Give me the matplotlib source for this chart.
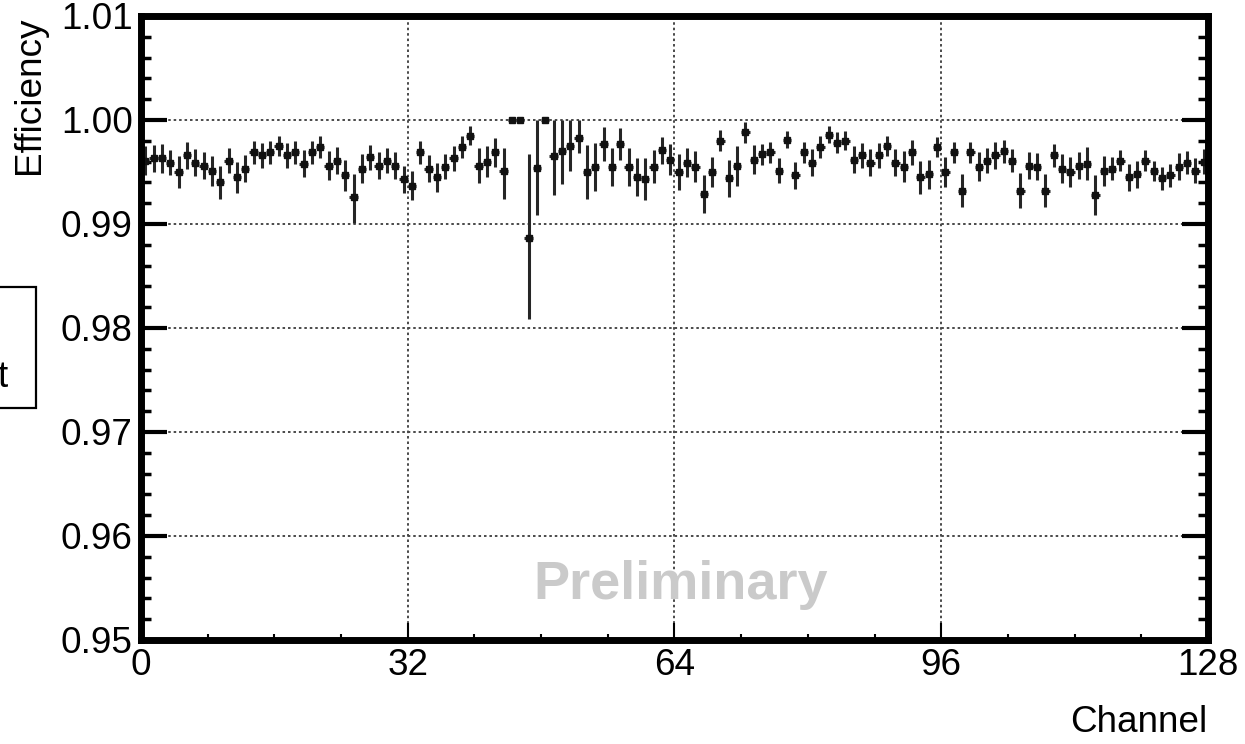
import numpy as np
import matplotlib
matplotlib.use("Agg")
import matplotlib.pyplot as plt
from matplotlib.patches import Rectangle
from matplotlib.ticker import MultipleLocator, FormatStrFormatter

plt.rcParams['font.family'] = ['Liberation Sans', 'DejaVu Sans']

# Per-channel efficiency (channels 0..127)
efficiency = [
    0.9961, 0.9963, 0.9963, 0.9959, 0.9950, 0.9966, 0.9959, 0.9956, 0.9951, 0.9940,
    0.9961, 0.9945, 0.9953, 0.9969, 0.9966, 0.9969, 0.9975, 0.9966, 0.9969, 0.9958,
    0.9969, 0.9974, 0.9956, 0.9961, 0.9947, 0.9926,
    0.9953, 0.9964, 0.9956, 0.9961, 0.9956, 0.9943, 0.9937, 0.9969, 0.9953, 0.9945,
    0.9955, 0.9963, 0.9974, 0.9985, 0.9956, 0.9960, 0.9969, 0.9951,
    1.0000, 1.0000, 0.9887, 0.9954, 1.0000, 0.9965, 0.9970, 0.9975, 0.9983, 0.9950,
    0.9955, 0.9977, 0.9955, 0.9977, 0.9955, 0.9945, 0.9943, 0.9955, 0.9971, 0.9962,
    0.9950, 0.9959, 0.9955, 0.9929, 0.9950, 0.9980, 0.9944, 0.9956, 0.9988, 0.9962,
    0.9967, 0.9969, 0.9951, 0.9981,
    0.9947, 0.9969, 0.9959, 0.9974, 0.9986, 0.9978, 0.9980, 0.9962, 0.9966, 0.9959,
    0.9966, 0.9975, 0.9959, 0.9955, 0.9969, 0.9945, 0.9948, 0.9974, 0.9950, 0.9969,
    0.9932, 0.9969, 0.9955, 0.9961, 0.9966,
    0.9970, 0.9961, 0.9932, 0.9956, 0.9955, 0.9932, 0.9966, 0.9953, 0.9950, 0.9956,
    0.9958, 0.9928, 0.9951, 0.9953, 0.9961, 0.9945, 0.9948, 0.9961, 0.9951, 0.9944,
    0.9947, 0.9955, 0.9959, 0.9951, 0.9960,
]

# Lower / upper uncertainties
err_lo = [
    0.0014, 0.0013, 0.0014, 0.0012, 0.0015, 0.0013, 0.0013, 0.0013, 0.0014, 0.0016,
    0.0012, 0.0015, 0.0013, 0.0011, 0.0012, 0.0011, 0.0010, 0.0012, 0.0011, 0.0013,
    0.0011, 0.0011, 0.0014, 0.0013, 0.0015, 0.0025,
    0.0014, 0.0012, 0.0013, 0.0012, 0.0013, 0.0013, 0.0014, 0.0011, 0.0013, 0.0014,
    0.0012, 0.0012, 0.0011, 0.0009, 0.0017, 0.0015, 0.0014, 0.0027,
    0.0000, 0.0000, 0.0078, 0.0045, 0.0000, 0.0037, 0.0032, 0.0024, 0.0015, 0.0026,
    0.0023, 0.0016, 0.0018, 0.0015, 0.0018, 0.0018, 0.0020, 0.0016, 0.0013, 0.0015,
    0.0017, 0.0014, 0.0015, 0.0018, 0.0014, 0.0010, 0.0018, 0.0019, 0.0010, 0.0014,
    0.0010, 0.0010, 0.0012, 0.0008,
    0.0013, 0.0010, 0.0013, 0.0011, 0.0008, 0.0010, 0.0009, 0.0013, 0.0012, 0.0013,
    0.0012, 0.0010, 0.0013, 0.0015, 0.0012, 0.0016, 0.0014, 0.0010, 0.0014, 0.0010,
    0.0016, 0.0010, 0.0014, 0.0012, 0.0013,
    0.0011, 0.0011, 0.0017, 0.0013, 0.0013, 0.0016, 0.0011, 0.0014, 0.0014, 0.0013,
    0.0016, 0.0019, 0.0014, 0.0011, 0.0010, 0.0013, 0.0013, 0.0010, 0.0010, 0.0011,
    0.0011, 0.0013, 0.0011, 0.0012, 0.0012,
]
err_hi = [
    0.0014, 0.0013, 0.0014, 0.0012, 0.0015, 0.0013, 0.0013, 0.0013, 0.0014, 0.0016,
    0.0012, 0.0015, 0.0013, 0.0011, 0.0012, 0.0011, 0.0010, 0.0012, 0.0011, 0.0013,
    0.0011, 0.0011, 0.0014, 0.0013, 0.0015, 0.0022,
    0.0014, 0.0012, 0.0013, 0.0012, 0.0013, 0.0013, 0.0014, 0.0011, 0.0013, 0.0014,
    0.0012, 0.0012, 0.0011, 0.0009, 0.0017, 0.0015, 0.0014, 0.0022,
    0.0000, 0.0000, 0.0080, 0.0046, 0.0000, 0.0035, 0.0030, 0.0025, 0.0017, 0.0026,
    0.0023, 0.0016, 0.0018, 0.0015, 0.0018, 0.0018, 0.0020, 0.0016, 0.0013, 0.0015,
    0.0017, 0.0014, 0.0015, 0.0018, 0.0014, 0.0010, 0.0018, 0.0019, 0.0010, 0.0014,
    0.0010, 0.0010, 0.0012, 0.0008,
    0.0013, 0.0010, 0.0013, 0.0011, 0.0008, 0.0010, 0.0009, 0.0013, 0.0012, 0.0013,
    0.0012, 0.0010, 0.0013, 0.0015, 0.0012, 0.0016, 0.0014, 0.0010, 0.0014, 0.0010,
    0.0016, 0.0010, 0.0014, 0.0012, 0.0013,
    0.0011, 0.0011, 0.0017, 0.0013, 0.0013, 0.0016, 0.0011, 0.0014, 0.0014, 0.0013,
    0.0016, 0.0019, 0.0014, 0.0011, 0.0010, 0.0013, 0.0013, 0.0010, 0.0010, 0.0011,
    0.0011, 0.0013, 0.0011, 0.0012, 0.0012,
]

x_ticks = [0, 32, 64, 96, 128]
y_ticks = [0.95, 0.96, 0.97, 0.98, 0.99, 1.00, 1.01]

channels = np.arange(len(efficiency))
bin_centers = channels + 0.5

W, H = 1245, 744
fig = plt.figure(figsize=(W / 100, H / 100), dpi=100)
ax = fig.add_axes([141 / W, 1 - 640 / H, (1208 - 141) / W, (640 - 16) / H])

ax.errorbar(bin_centers, efficiency, yerr=[err_lo, err_hi], xerr=0.5,
            fmt='s', ms=4.2, color='#111111', ecolor='#262626',
            elinewidth=2.2, capsize=0, zorder=3)

ax.set_xlim(0, 128)
ax.set_ylim(0.95, 1.01)
ax.set_xticks(x_ticks)
ax.set_yticks(y_ticks)
ax.xaxis.set_minor_locator(MultipleLocator(8))
ax.yaxis.set_minor_locator(MultipleLocator(0.002))
ax.yaxis.set_major_formatter(FormatStrFormatter('%.2f'))

ax.grid(True, which='major', color='#4a4a4a', linewidth=1.4,
        linestyle=(0, (1.3, 1.5)), zorder=1)

for sp in ax.spines.values():
    sp.set_linewidth(5)
    sp.set_zorder(5)

ax.tick_params(axis='y', which='major', direction='in', length=19, width=3,
               left=True, right=True, labelsize=26.6, pad=6)
ax.tick_params(axis='y', which='minor', direction='in', length=7, width=2.5,
               left=True, right=True)
ax.tick_params(axis='x', which='major', direction='in', length=12, width=1.5,
               labelsize=26.6, pad=6)
ax.tick_params(axis='x', which='minor', direction='in', length=4.5, width=1.5)

ax.text(64.8, 0.9539, 'Preliminary', ha='center', va='baseline',
        fontsize=39, fontweight='bold', color='#cacaca', zorder=2)

fig.text(30 / W, 1 - 16 / H, 'Efficiency', rotation=90, ha='center', va='top',
         fontsize=26.6)
fig.text(1207 / W, (H - 732) / H, 'Channel', ha='right', va='baseline',
         fontsize=26.6)

# Partially visible side panel box
fig.patches.append(Rectangle((-20 / W, 1 - 408 / H), 56 / W, (408 - 287) / H,
                             transform=fig.transFigure, fill=False,
                             lw=1.6, ec='black'))
fig.text(8 / W, (H - 387) / H, 't', ha='right', va='baseline', fontsize=26.6)

fig.savefig('out.png', dpi=100)
